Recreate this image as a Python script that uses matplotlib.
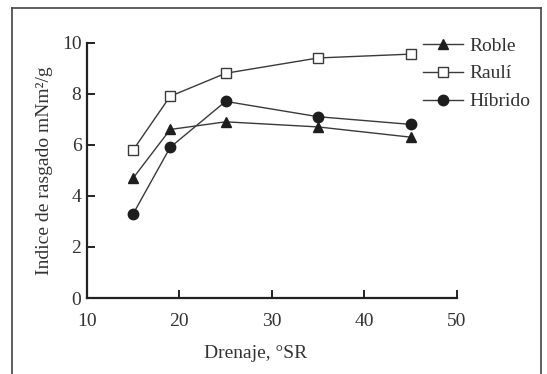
import matplotlib
matplotlib.use("Agg")
import matplotlib.pyplot as plt
from matplotlib.lines import Line2D

# -----------------------------
# Data
# -----------------------------
drenaje = [15, 19, 25, 35, 45]
roble = [4.7, 6.6, 6.9, 6.7, 6.3]
rauli = [5.8, 7.9, 8.8, 9.4, 9.55]
hibrido = [3.3, 5.9, 7.7, 7.1, 6.8]

x_ticks = [10, 20, 30, 40, 50]
y_ticks = [0, 2, 4, 6, 8, 10]

plt.rcParams['font.family'] = ['Liberation Serif', 'DejaVu Serif']
plt.rcParams['font.size'] = 14

fig = plt.figure(figsize=(5.47, 3.74), dpi=100)
fig.patch.set_facecolor('white')
ax = fig.add_axes([0.159, 0.203, 0.676, 0.683])

line_col = '#3a3a3a'
mk_col = '#1e1e1e'
ax.plot(drenaje, roble, color=line_col, lw=1.0, marker='^', ms=7.5,
        mfc=mk_col, mec=mk_col, label='Roble')
ax.plot(drenaje, rauli, color=line_col, lw=1.0, marker='s', ms=7.5,
        mfc='white', mec=line_col, mew=1.0, label='Raulí')
ax.plot(drenaje, hibrido, color=line_col, lw=1.0, marker='o', ms=7.5,
        mfc=mk_col, mec=mk_col, label='Híbrido')

ax.set_xlim(10, 50)
ax.set_ylim(0, 10)
ax.set_xticks(x_ticks)
ax.set_yticks(y_ticks)
ax.spines['top'].set_visible(False)
ax.spines['right'].set_visible(False)
for s in ['left', 'bottom']:
    ax.spines[s].set_linewidth(1.6)
    ax.spines[s].set_color('#222222')
ax.tick_params(direction='in', length=6, width=1.4, colors='#222222',
               labelcolor='#333333', labelsize=14)
ax.tick_params(axis='x', pad=11)
ax.tick_params(axis='y', pad=4)

ax.set_xlabel('Drenaje, °SR', fontsize=14, color='#333333')
ax.xaxis.label.set_va('center')
ax.xaxis.set_label_coords(0.457, -0.216)
ax.set_ylabel('Indice de rasgado mNm²/g', fontsize=14, color='#333333', labelpad=6)

leg = fig.legend(loc='upper left', bbox_to_anchor=(0.741, 0.948),
                 frameon=False, handlelength=2.06, handletextpad=0.36,
                 labelspacing=0.53, fontsize=14)
for t in leg.get_texts():
    t.set_color('#333333')

# page frame from the scan
frame = dict(color='#444444', lw=1.2, transform=fig.transFigure)
fig.add_artist(Line2D([0.022, 0.022], [0.0, 0.979], **frame))
fig.add_artist(Line2D([0.022, 0.989], [0.979, 0.979], **frame))
fig.add_artist(Line2D([0.989, 0.989], [0.0, 0.979], **frame))

fig.savefig('out.png', dpi=100)
